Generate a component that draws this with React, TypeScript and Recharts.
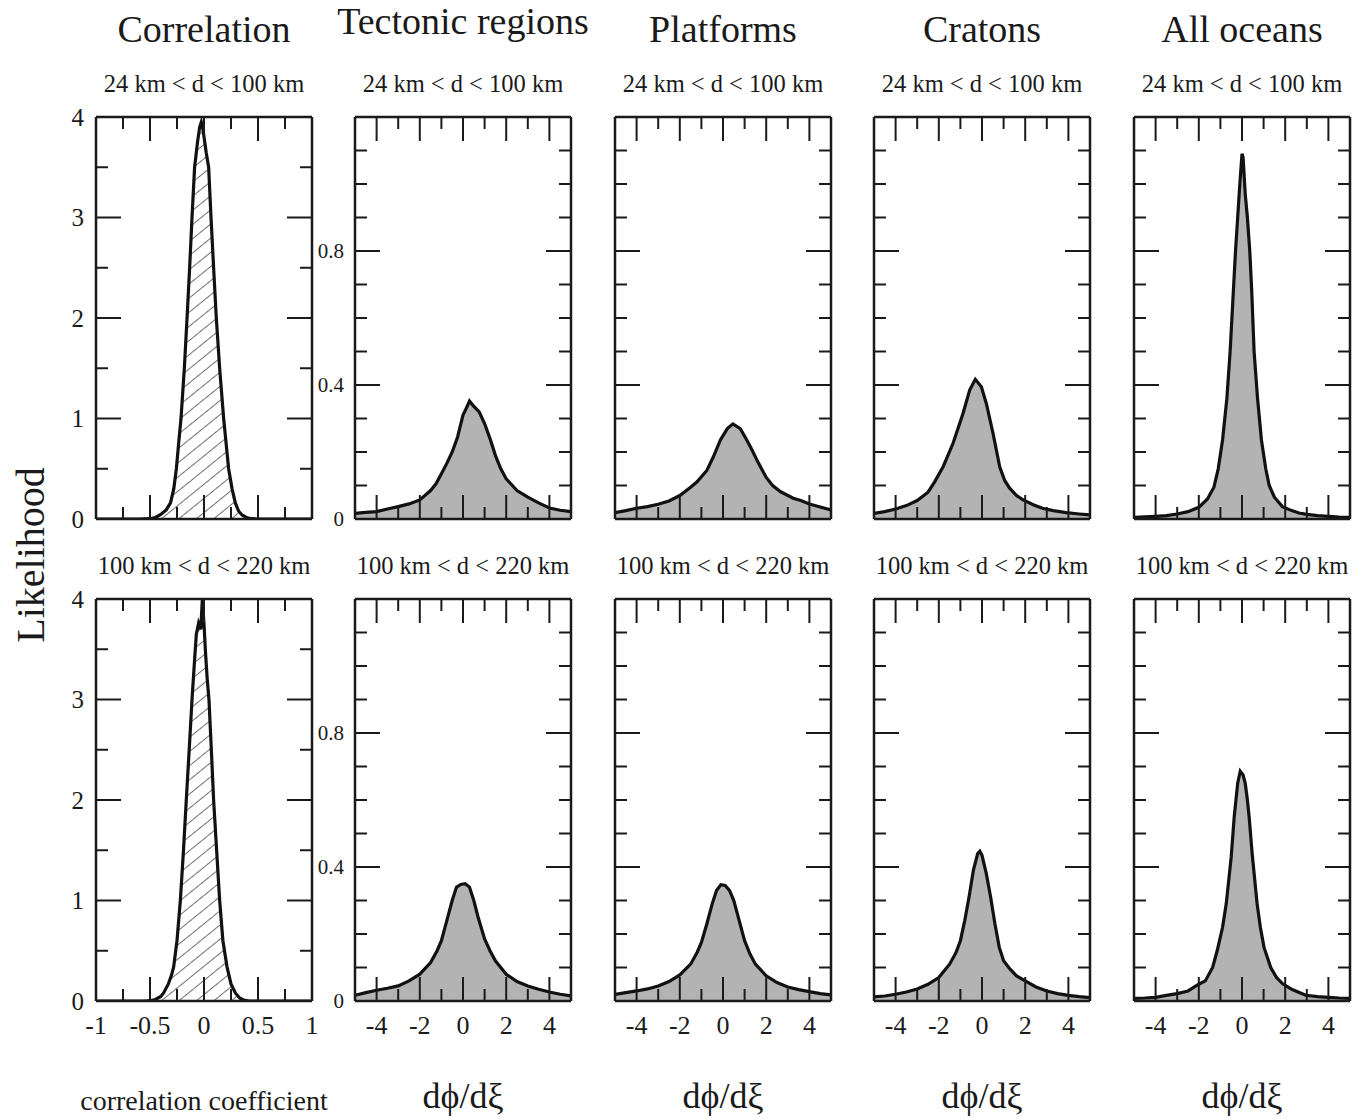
import React from "react";
import { AreaChart, Area, XAxis, YAxis } from "recharts";

const SERIF = "'Liberation Serif', 'Times New Roman', Times, serif";
const INK = "#1a1a1a";

// correlation coefficient, 24-100 km and 100-220 km
const corrTopX = [-1, -0.6, -0.5, -0.45, -0.4, -0.35, -0.31, -0.28, -0.256, -0.235, -0.213, -0.182, -0.157, -0.133, -0.111, -0.087, -0.06, -0.04, -0.025, -0.01, 0.02, 0.043, 0.065, 0.089, 0.114, 0.145, 0.182, 0.205, 0.228, 0.26, 0.29, 0.32, 0.352, 0.4, 0.44, 0.5, 1];
const corrTopY = [0, 0, 0.003, 0.015, 0.045, 0.09, 0.16, 0.3, 0.5, 0.75, 1.0, 1.5, 2.0, 2.5, 3.0, 3.5, 3.75, 3.9, 3.95, 3.88, 3.65, 3.5, 3.0, 2.5, 2.0, 1.5, 1.0, 0.75, 0.5, 0.3, 0.16, 0.08, 0.04, 0.012, 0.003, 0, 0];
const corrBotX = [-1, -0.55, -0.5, -0.45, -0.4, -0.374, -0.33, -0.3, -0.281, -0.25, -0.219, -0.19, -0.164, -0.137, -0.111, -0.09, -0.071, -0.05, -0.03, -0.015, 0, 0.015, 0.03, 0.046, 0.068, 0.089, 0.117, 0.145, 0.175, 0.213, 0.25, 0.29, 0.33, 0.37, 0.42, 1];
const corrBotY = [0, 0, 0.003, 0.015, 0.045, 0.08, 0.17, 0.26, 0.34, 0.6, 1.0, 1.5, 2.0, 2.5, 3.0, 3.35, 3.65, 3.76, 3.7, 4.0, 3.75, 3.45, 3.2, 3.0, 2.5, 2.0, 1.5, 1.0, 0.6, 0.34, 0.17, 0.08, 0.03, 0.008, 0, 0];

// dphi/dxi, top row (24-100 km)
const tectTopX = [-5, -4.5, -4, -3.5, -3, -2.5, -2, -1.5, -1.25, -1, -0.75, -0.5, -0.25, 0, 0.15, 0.3, 0.45, 0.75, 1, 1.25, 1.5, 1.75, 2, 2.5, 3, 3.5, 4, 4.5, 5];
const tectTopY = [0.017, 0.02, 0.022, 0.03, 0.037, 0.045, 0.057, 0.085, 0.105, 0.135, 0.166, 0.2, 0.245, 0.31, 0.33, 0.352, 0.34, 0.32, 0.285, 0.24, 0.19, 0.15, 0.12, 0.085, 0.065, 0.048, 0.033, 0.026, 0.022];
const platTopX = [-5, -4.5, -4, -3.5, -3, -2.5, -2, -1.5, -1.2, -0.75, -0.45, -0.12, 0.2, 0.46, 0.8, 1.1, 1.35, 1.6, 2.0, 2.3, 2.65, 3.25, 3.6, 4, 4.5, 5];
const platTopY = [0.019, 0.025, 0.032, 0.037, 0.044, 0.054, 0.07, 0.095, 0.111, 0.145, 0.185, 0.236, 0.27, 0.284, 0.27, 0.236, 0.205, 0.172, 0.124, 0.1, 0.082, 0.062, 0.055, 0.045, 0.036, 0.027];
const cratTopX = [-5, -4.5, -4, -3.5, -3, -2.5, -2.2, -1.8, -1.34, -0.88, -0.57, -0.31, -0.03, 0.2, 0.51, 0.82, 1.05, 1.28, 1.6, 1.9, 2.4, 2.8, 3.3, 3.9, 4.5, 5];
const cratTopY = [0.017, 0.022, 0.03, 0.04, 0.055, 0.08, 0.11, 0.156, 0.226, 0.315, 0.385, 0.417, 0.395, 0.345, 0.256, 0.156, 0.115, 0.092, 0.07, 0.057, 0.042, 0.032, 0.025, 0.019, 0.015, 0.012];
const oceanTopX = [-5, -4, -3.5, -3, -2.5, -2, -1.6, -1.3, -1.1, -0.9, -0.7, -0.55, -0.4, -0.3, -0.2, -0.1, 0, 0.05, 0.15, 0.25, 0.36, 0.45, 0.56, 0.72, 0.9, 1.1, 1.26, 1.5, 1.87, 2.3, 2.64, 3, 3.5, 4, 4.5, 5];
const oceanTopY = [0.005, 0.008, 0.01, 0.015, 0.022, 0.035, 0.06, 0.095, 0.15, 0.236, 0.36, 0.5, 0.68, 0.8, 0.9, 1.0, 1.09, 1.08, 0.97, 0.9, 0.8, 0.68, 0.5, 0.36, 0.236, 0.15, 0.1, 0.065, 0.037, 0.025, 0.018, 0.014, 0.01, 0.008, 0.006, 0.005];

// dphi/dxi, bottom row (100-220 km)
const tectBotX = [-5, -4.5, -4, -3.5, -3, -2.5, -2, -1.5, -1.2, -1, -0.75, -0.5, -0.3, -0.1, 0.1, 0.3, 0.5, 0.7, 1, 1.25, 1.5, 2, 2.5, 3, 3.5, 4, 4.5, 5];
const tectBotY = [0.017, 0.025, 0.032, 0.038, 0.045, 0.06, 0.08, 0.115, 0.15, 0.18, 0.24, 0.3, 0.34, 0.348, 0.35, 0.34, 0.3, 0.25, 0.185, 0.15, 0.12, 0.08, 0.058, 0.045, 0.035, 0.027, 0.02, 0.015];
const platBotX = [-5, -4.5, -4, -3.5, -3, -2.5, -2, -1.5, -1.2, -1, -0.75, -0.5, -0.3, -0.1, 0.1, 0.3, 0.5, 0.75, 1, 1.25, 1.5, 2, 2.5, 3, 3.5, 4, 4.5, 5];
const platBotY = [0.02, 0.025, 0.03, 0.036, 0.045, 0.058, 0.078, 0.11, 0.145, 0.175, 0.23, 0.29, 0.33, 0.347, 0.345, 0.33, 0.3, 0.24, 0.18, 0.14, 0.11, 0.075, 0.055, 0.042, 0.034, 0.028, 0.022, 0.018];
const cratBotX = [-5, -4.5, -4, -3.5, -3, -2.5, -2, -1.5, -1.2, -1, -0.8, -0.6, -0.4, -0.2, -0.1, 0, 0.2, 0.4, 0.6, 0.8, 1, 1.3, 1.6, 2, 2.5, 3, 3.5, 4, 4.5, 5];
const cratBotY = [0.012, 0.015, 0.02, 0.027, 0.036, 0.05, 0.07, 0.11, 0.145, 0.18, 0.24, 0.31, 0.39, 0.44, 0.447, 0.435, 0.38, 0.31, 0.23, 0.16, 0.12, 0.095, 0.075, 0.06, 0.042, 0.03, 0.022, 0.017, 0.013, 0.01];
const oceanBotX = [-5, -4.5, -4, -3.5, -3, -2.5, -2, -1.7, -1.36, -1.15, -0.9, -0.73, -0.5, -0.36, -0.2, -0.08, 0.05, 0.15, 0.25, 0.33, 0.47, 0.7, 0.85, 1.02, 1.33, 1.6, 1.87, 2.3, 2.95, 3.5, 4, 4.5, 5];
const oceanBotY = [0.008, 0.009, 0.011, 0.017, 0.022, 0.03, 0.05, 0.06, 0.1, 0.15, 0.22, 0.29, 0.43, 0.55, 0.65, 0.686, 0.675, 0.65, 0.6, 0.55, 0.44, 0.29, 0.22, 0.16, 0.1, 0.07, 0.052, 0.035, 0.017, 0.013, 0.011, 0.009, 0.008];

const columns = ["Correlation", "Tectonic regions", "Platforms", "Cratons", "All oceans"];
const rowLabels = ["24 km < d < 100 km", "100 km < d < 220 km"];

const corrXTicks = [-1, -0.75, -0.5, -0.25, 0, 0.25, 0.5, 0.75, 1];
const corrXMajor = [-0.5, 0, 0.5];
const corrXLabels = [-1, -0.5, 0, 0.5, 1];
const corrYTicks = [0, 0.5, 1, 1.5, 2, 2.5, 3, 3.5, 4];
const corrYMajor = [1, 2, 3];
const corrYLabels = [0, 1, 2, 3, 4];

const slopeXTicks = [-5, -4, -3, -2, -1, 0, 1, 2, 3, 4, 5];
const slopeXMajor = [-4, -2, 0, 2, 4];
const slopeXLabels = [-4, -2, 0, 2, 4];
const slopeYTicks = [0, 0.1, 0.2, 0.3, 0.4, 0.5, 0.6, 0.7, 0.8, 0.9, 1, 1.1, 1.2];
const slopeYMajor = [0.4, 0.8];
const slopeYLabels = [0, 0.4, 0.8];

const BOX_LEFT = [96, 355, 615, 874, 1134];
const ROW_TOP = [117, 599];
const BOX_W = 216;
const BOX_H = 402;
// outer margin + axis band on each side of the plot box
const M = { top: 14, right: 5, bottom: 6, left: 6 };
const AX = { top: 1, right: 1, bottom: 40, left: 44 };

const series = [
  [[corrTopX, corrTopY], [tectTopX, tectTopY], [platTopX, platTopY], [cratTopX, cratTopY], [oceanTopX, oceanTopY]],
  [[corrBotX, corrBotY], [tectBotX, tectBotY], [platBotX, platBotY], [cratBotX, cratBotY], [oceanBotX, oceanBotY]],
];

const xTick = (side: "top" | "bottom", major: number[], labels: number[] | null, dom: number[]) =>
  (p: any) => {
    const v = p.payload.value;
    const len = major.includes(v) ? 24 : 12;
    const edge = v === dom[0] || v === dom[1];
    const dir = side === "bottom" ? -1 : 1;
    return (
      <g>
        {!edge && <line x1={p.x} x2={p.x} y1={p.y} y2={p.y + dir * len} stroke={INK} strokeWidth={2} />}
        {labels && labels.includes(v) && (
          <text x={p.x} y={p.y + 33} textAnchor="middle" fontFamily={SERIF} fontSize={26} fill={INK}>
            {String(v)}
          </text>
        )}
      </g>
    );
  };

const yTick = (side: "left" | "right", major: number[], labels: number[] | null, dom: number[], fontSize: number, gap: number) =>
  (p: any) => {
    const v = p.payload.value;
    const len = major.includes(v) ? 25 : 12;
    const edge = v === dom[0] || v === dom[1];
    const dir = side === "left" ? 1 : -1;
    return (
      <g>
        {!edge && <line x1={p.x} x2={p.x + dir * len} y1={p.y} y2={p.y} stroke={INK} strokeWidth={2} />}
        {labels && labels.includes(v) && (
          <text x={p.x - gap} y={p.y} dy="0.35em" textAnchor="end" fontFamily={SERIF} fontSize={fontSize} fill={INK}>
            {String(v)}
          </text>
        )}
      </g>
    );
  };

const Panel = ({ row, col }: { row: number; col: number }) => {
  const corr = col === 0;
  const [xs, ys] = series[row][col];
  const data = xs.map((x, i) => ({ x, y: ys[i] }));
  const xDom = corr ? [-1, 1] : [-5, 5];
  const yDom = corr ? [0, 4] : [0, 1.2];
  const xTicks = corr ? corrXTicks : slopeXTicks;
  const xMajor = corr ? corrXMajor : slopeXMajor;
  const xLabels = row === 1 ? (corr ? corrXLabels : slopeXLabels) : null;
  const yTicks = corr ? corrYTicks : slopeYTicks;
  const yMajor = corr ? corrYMajor : slopeYMajor;
  const yLabels = col === 0 ? corrYLabels : col === 1 ? slopeYLabels : null;
  const hatchId = `hatch-${row}`;
  const axisLine = { stroke: INK, strokeWidth: 2.5 };
  const padL = M.left + AX.left;
  const padT = M.top + AX.top;

  return (
    <div style={{ position: "absolute", left: BOX_LEFT[col] - padL, top: ROW_TOP[row] - padT }}>
      <AreaChart
        width={BOX_W + padL + M.right + AX.right}
        height={BOX_H + padT + M.bottom + AX.bottom}
        data={data}
        margin={M}
      >
        <defs>
          <pattern id={hatchId} patternUnits="userSpaceOnUse" width="11" height="11" patternTransform="rotate(51)">
            <line x1="0" y1="0" x2="0" y2="11" stroke="#333" strokeWidth="1.4" />
          </pattern>
        </defs>
        <Area
          type="linear"
          dataKey="y"
          stroke="#111"
          strokeWidth={3.2}
          fill={corr ? `url(#${hatchId})` : "#b3b3b3"}
          fillOpacity={1}
          isAnimationActive={false}
        />
        <XAxis dataKey="x" type="number" domain={xDom} ticks={xTicks} interval={0} height={AX.bottom}
          tickSize={0} tickMargin={0} axisLine={axisLine} tickLine={false} allowDataOverflow
          tick={xTick("bottom", xMajor, xLabels, xDom)} />
        <XAxis xAxisId="top" orientation="top" dataKey="x" type="number" domain={xDom} ticks={xTicks} interval={0}
          height={AX.top} tickSize={0} tickMargin={0} axisLine={axisLine} tickLine={false} allowDataOverflow
          tick={xTick("top", xMajor, null, xDom)} />
        <YAxis type="number" domain={yDom} ticks={yTicks} interval={0} width={AX.left} tickSize={0} tickMargin={0}
          axisLine={axisLine} tickLine={false} allowDataOverflow
          tick={yTick("left", yMajor, yLabels, yDom, corr ? 25 : 21, corr ? 12 : 11)} />
        <YAxis yAxisId="right" orientation="right" type="number" domain={yDom} ticks={yTicks} interval={0}
          width={AX.right} tickSize={0} tickMargin={0} axisLine={axisLine} tickLine={false} allowDataOverflow
          tick={yTick("right", yMajor, null, yDom, 21, 0)} />
      </AreaChart>
    </div>
  );
};

export default function App() {
  const centers = BOX_LEFT.map((l) => l + BOX_W / 2);
  return (
    <div style={{ position: "absolute", left: 0, top: 0, width: 1367, height: 1120, background: "#fff" }}>
      {[0, 1].map((row) => [0, 1, 2, 3, 4].map((col) => <Panel key={`${row}-${col}`} row={row} col={col} />))}
      <svg width={1367} height={1120} style={{ position: "absolute", left: 0, top: 0, pointerEvents: "none" }}>
        <g fontFamily={SERIF} fill={INK} textAnchor="middle">
          {columns.map((c, i) => (
            <text key={c} x={centers[i]} y={i === 1 ? 34 : 42} fontSize={38}>{c}</text>
          ))}
          {centers.map((cx, i) => (
            <text key={`t${i}`} x={cx} y={92} fontSize={24.5}>{rowLabels[0]}</text>
          ))}
          {centers.map((cx, i) => (
            <text key={`b${i}`} x={cx} y={574} fontSize={24.5}>{rowLabels[1]}</text>
          ))}
          <text x={centers[0]} y={1110} fontSize={28}>correlation coefficient</text>
          {centers.slice(1).map((cx, i) => (
            <text key={`d${i}`} x={cx} y={1108} fontSize={36}>dϕ/dξ</text>
          ))}
          <text transform="translate(30,555) rotate(-90)" dominantBaseline="central" fontSize={40}>Likelihood</text>
        </g>
      </svg>
    </div>
  );
}
